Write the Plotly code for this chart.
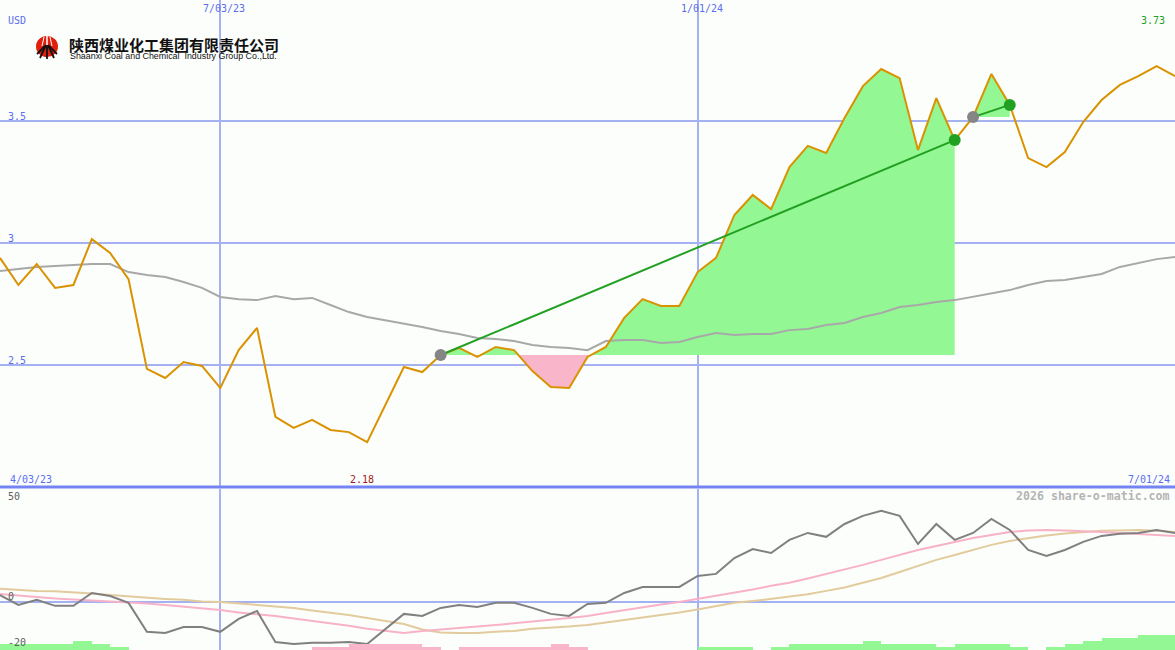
import pandas as pd
import plotly.graph_objects as go

W, H = 1175, 650

# ---------------- data ----------------
start_date = "2023-04-10"
end_date = "2024-07-01"
n_weeks = 65

price = [2.939, 2.828, 2.914, 2.816, 2.828, 3.016, 2.959, 2.852, 2.484, 2.447,
         2.512, 2.496, 2.406, 2.561, 2.652, 2.287, 2.242, 2.275, 2.234, 2.225,
         2.184, 2.336, 2.492, 2.471, 2.541, 2.570, 2.533, 2.574, 2.561, 2.475,
         2.410, 2.406, 2.533, 2.574, 2.693, 2.770, 2.742, 2.742, 2.881, 2.939,
         3.115, 3.197, 3.139, 3.311, 3.398, 3.369, 3.512, 3.643, 3.713, 3.676,
         3.381, 3.594, 3.422, 3.516, 3.693, 3.566, 3.348, 3.311, 3.373, 3.496,
         3.586, 3.648, 3.684, 3.725, 3.684]

moving_avg = [2.885, 2.893, 2.902, 2.906, 2.910, 2.914, 2.914, 2.881, 2.869, 2.861,
              2.840, 2.816, 2.779, 2.770, 2.766, 2.783, 2.770, 2.775, 2.746, 2.717,
              2.697, 2.684, 2.672, 2.656, 2.639, 2.627, 2.611, 2.607, 2.598, 2.582,
              2.574, 2.570, 2.561, 2.598, 2.602, 2.602, 2.590, 2.594, 2.615, 2.631,
              2.623, 2.627, 2.627, 2.643, 2.648, 2.664, 2.672, 2.697, 2.713, 2.738,
              2.746, 2.758, 2.766, 2.779, 2.795, 2.807, 2.828, 2.844, 2.848, 2.861,
              2.873, 2.902, 2.918, 2.934, 2.943]

oscillator = [3.0, -1.3, 0.9, -1.7, -1.7, 3.9, 2.6, -0.4, -13.0, -13.5,
              -10.9, -10.9, -13.0, -7.4, -3.9, -17.4, -18.3, -17.8, -17.8, -17.4,
              -18.3, -11.7, -5.2, -6.1, -2.6, -1.3, -2.2, -0.4, -0.4, -2.6,
              -5.2, -6.1, -0.9, -0.4, 3.9, 6.5, 6.5, 6.5, 11.3, 12.2,
              19.1, 23.0, 21.3, 27.0, 30.0, 28.3, 33.9, 37.4, 39.6, 37.4,
              25.2, 33.9, 27.0, 30.0, 36.1, 31.3, 22.6, 20.0, 22.6, 26.1,
              28.7, 29.6, 30.0, 31.3, 30.0]

osc_signal = [3.5, 2.8, 2.2, 1.5, 1.1, 0.7, 0.4, 0.0, -0.7, -1.3,
              -2.0, -2.6, -3.5, -4.6, -5.2, -6.1, -7.2, -8.3, -9.1, -10.4,
              -11.7, -12.6, -13.5, -12.6, -12.0, -11.3, -10.9, -10.0, -9.3, -8.7,
              -7.8, -7.0, -6.1, -4.8, -3.5, -2.4, -1.1, 0.0, 1.3, 2.6,
              4.1, 5.4, 7.0, 8.3, 10.2, 12.2, 13.9, 16.1, 18.3, 20.4,
              22.6, 24.3, 26.1, 27.8, 29.1, 30.4, 31.1, 31.3, 31.1, 30.9,
              30.4, 30.0, 29.6, 29.1, 28.7]

osc_slow = [5.7, 5.2, 4.8, 4.6, 4.3, 3.7, 3.0, 2.4, 1.7, 1.3,
            0.9, 0.2, 0.0, -0.7, -1.3, -2.0, -2.6, -3.7, -4.6, -5.7,
            -7.0, -8.3, -9.6, -12.0, -13.3, -13.5, -13.5, -13.0, -12.6, -11.7,
            -11.3, -10.7, -10.0, -8.9, -7.8, -7.0, -5.9, -4.6, -3.3, -1.7,
            -0.4, 0.4, 1.3, 2.2, 3.3, 4.8, 6.3, 8.3, 10.4, 13.0,
            15.7, 18.3, 20.4, 22.6, 24.8, 26.5, 27.8, 28.9, 29.8, 30.4,
            30.9, 31.1, 31.3, 30.9, 30.4]

# signed histogram levels: + green, - pink
histogram = [2, 2, 2, 2, 3, 2, 1, 0, 0, 0,
             0, 0, 0, 0, 0, 0, 0, -1, -1, -2,
             -2, -2, -2, -1, 0, -1, -1, -1, -1, -1,
             -2, -1, 0, 0, 0, 0, 0, 0, 1, 1,
             1, 0, 1, 2, 2, 2, 2, 3, 2, 2,
             2, 1, 2, 2, 2, 1, 0, 1, 2, 3,
             4, 4, 5, 5, 5]

trends = [(24, 52), (53, 55)]   # (start week index, end week index)

x_ticks = ["2023-07-03", "2024-01-01"]
x_tick_labels = ["7/03/23", "1/01/24"]
y_ticks = [2.5, 3.0, 3.5]
y_tick_labels = ["2.5", "3", "3.5"]
osc_ticks = [50, 0, -20]
osc_tick_labels = ["50", "0", "-20"]

# ---------------- styles ----------------
BG = "#fcfefc"
GRID = "#a4b2f2"
SEP = "#7484f2"
LBL = "#5b6ef0"
ORANGE = "#d99200"
GRAYMA = "#a8a8a8"
GREEN_FILL = "#93f893"
PINK_FILL = "#f9b5ca"
GREEN = "#22a022"
FONT = "DejaVu Sans Mono"

dates = pd.date_range(start_date, periods=n_weeks, freq="7D")

main_bottom = 1 - 487 / H
osc_top = 161 / H


def px(x, y):
    return x / W, 1 - y / H


fig = go.Figure()

# ---------- fills between price and trend base ----------
for i0, i1 in trends:
    base = price[i0]
    xs, up, lo = [], [], []
    for i in range(i0, i1 + 1):
        if i > i0:
            p0, p1 = price[i - 1] - base, price[i] - base
            if p0 * p1 < 0:
                f = p0 / (p0 - p1)
                t = dates[i - 1] + (dates[i] - dates[i - 1]) * f
                xs.append(t); up.append(base); lo.append(base)
        xs.append(dates[i]); up.append(max(price[i], base)); lo.append(min(price[i], base))
    for ys, col in ((up, GREEN_FILL), (lo, PINK_FILL)):
        fig.add_trace(go.Scatter(x=xs, y=[base] * len(xs), mode="lines",
                                 line=dict(width=0), hoverinfo="skip", showlegend=False))
        fig.add_trace(go.Scatter(x=xs, y=ys, mode="lines", line=dict(width=0),
                                 fill="tonexty", fillcolor=col, hoverinfo="skip",
                                 showlegend=False))

# moving average and price
fig.add_trace(go.Scatter(x=dates, y=moving_avg, mode="lines",
                         line=dict(color=GRAYMA, width=2), showlegend=False))
fig.add_trace(go.Scatter(x=dates, y=price, mode="lines",
                         line=dict(color=ORANGE, width=2), showlegend=False))

# trend lines and markers
for i0, i1 in trends:
    fig.add_trace(go.Scatter(x=[dates[i0], dates[i1]], y=[price[i0], price[i1]],
                             mode="lines", line=dict(color=GREEN, width=2),
                             showlegend=False))
    fig.add_trace(go.Scatter(x=[dates[i0]], y=[price[i0]], mode="markers",
                             marker=dict(color="#858585", size=12), showlegend=False))
    fig.add_trace(go.Scatter(x=[dates[i1]], y=[price[i1]], mode="markers",
                             marker=dict(color=GREEN, size=12), showlegend=False))

# ---------- lower panel ----------
bar_x = [d + pd.Timedelta(days=3.5) for d in dates]
fig.add_trace(go.Bar(x=bar_x, y=[abs(v) for v in histogram],
                     marker=dict(color=[GREEN_FILL if v > 0 else PINK_FILL for v in histogram],
                                 line=dict(width=0)),
                     width=7 * 24 * 3600 * 1000, xaxis="x2", yaxis="y3",
                     showlegend=False))
fig.add_trace(go.Scatter(x=dates, y=osc_slow, mode="lines", xaxis="x2", yaxis="y2",
                         line=dict(color="#e2cb9c", width=2), showlegend=False))
fig.add_trace(go.Scatter(x=dates, y=osc_signal, mode="lines", xaxis="x2", yaxis="y2",
                         line=dict(color="#f8b2c8", width=2), showlegend=False))
fig.add_trace(go.Scatter(x=dates, y=oscillator, mode="lines", xaxis="x2", yaxis="y2",
                         line=dict(color="#808080", width=2), showlegend=False))

# ---------- annotations ----------
ann = []
lf = dict(family=FONT, size=10, color=LBL)
ann.append(dict(text="USD", x=6 / W, y=1 - 20 / H, xref="paper", yref="paper",
                xanchor="left", yanchor="middle", showarrow=False, font=lf))
for v, t in zip(y_ticks, y_tick_labels):
    ann.append(dict(text=t, x=6 / W, y=v, xref="paper", yref="y", xanchor="left",
                    yanchor="bottom", yshift=-3, showarrow=False, font=lf))
for d, t in zip(x_ticks, x_tick_labels):
    ann.append(dict(text=t, x=d, y=1 - 9 / H, xref="x", yref="paper", xanchor="center",
                    yanchor="middle", xshift=4, showarrow=False, font=lf))
ann.append(dict(text="4/03/23", x=8 / W, y=1 - 479 / H, xref="paper", yref="paper",
                xanchor="left", yanchor="middle", showarrow=False, font=lf))
ann.append(dict(text="7/01/24", x=1172 / W, y=1 - 479 / H, xref="paper", yref="paper",
                xanchor="right", yanchor="middle", showarrow=False, font=lf))
imin = price.index(min(price))
imax = price.index(max(price))
ann.append(dict(text=f"{min(price):.2f}", x=dates[imin], y=1 - 479 / H, xref="x", yref="paper",
                xanchor="center", yanchor="middle", xshift=-5, showarrow=False,
                font=dict(family=FONT, size=10, color="#a01c1c")))
ann.append(dict(text=f"{max(price):.2f}", x=dates[imax], y=1 - 21 / H, xref="x", yref="paper",
                xanchor="center", yanchor="middle", xshift=-4, showarrow=False,
                font=dict(family=FONT, size=10, color=GREEN)))
for yy, t in zip([496, 596, 642], osc_tick_labels):
    ann.append(dict(text=t, x=6 / W, y=1 - yy / H, xref="paper", yref="paper",
                    xanchor="left", yanchor="middle", showarrow=False,
                    font=dict(family=FONT, size=10, color="#606060")))
ann.append(dict(text="<b>2026 share-o-matic.com</b>", x=1172 / W, y=1 - 496 / H,
                xref="paper", yref="paper", xanchor="right", yanchor="middle",
                showarrow=False, font=dict(family=FONT, size=11.6, color="#b4b4b4")))
# logo text
ann.append(dict(text="<b>陕西煤业化工集团有限责任公司</b>", x=67 / W, y=1 - 44.5 / H,
                xref="paper", yref="paper", xanchor="left", yanchor="middle",
                showarrow=False, font=dict(family="Noto Sans CJK SC", size=15, color="#111111")))
ann.append(dict(text="Shaanxi Coal and Chemical  Industry Group Co.,Ltd.", x=68 / W,
                y=1 - 56 / H, xref="paper", yref="paper", xanchor="left", yanchor="middle",
                showarrow=False, font=dict(family="Liberation Sans", size=8.9, color="#111111")))

# ---------- shapes ----------
shapes = []
shapes.append(dict(type="line", xref="paper", yref="paper", x0=0, x1=1,
                   y0=main_bottom, y1=main_bottom, line=dict(color=SEP, width=3), layer="above"))
cx0, cy0 = px(36, 36)
cx1, cy1 = px(58, 57)
shapes.append(dict(type="circle", xref="paper", yref="paper", x0=cx0, x1=cx1, y0=cy1, y1=cy0,
                   fillcolor="#e0200c", line=dict(width=0), layer="above"))


def seg(a, b, c, d, col, w):
    x0, y0 = px(a, b)
    x1, y1 = px(c, d)
    return dict(type="line", xref="paper", yref="paper", x0=x0, y0=y0, x1=x1, y1=y1,
                line=dict(color=col, width=w), layer="above")


shapes.append(seg(47, 36, 47, 46, "#ffffff", 1.5))
shapes.append(seg(44, 37, 42, 46, "#ffffff", 1))
shapes.append(seg(50, 37, 52, 46, "#ffffff", 1))
for (a, b, c, d) in [(47, 45, 47, 59), (46, 45, 40, 58), (48, 45, 54, 58),
                     (45, 46, 37, 54), (49, 46, 57, 54)]:
    shapes.append(seg(a, b, c, d, "#111111", 1.8))

xcommon = dict(type="date", range=[start_date, end_date], tickvals=x_ticks,
               showticklabels=False, showgrid=True, gridcolor=GRID, gridwidth=2,
               zeroline=False, showline=False, ticks="", fixedrange=True)

fig.update_layout(
    width=W, height=H,
    margin=dict(l=0, r=0, t=0, b=0),
    paper_bgcolor=BG, plot_bgcolor=BG,
    showlegend=False,
    bargap=0,
    xaxis=dict(**xcommon, domain=[0, 1], anchor="y"),
    xaxis2=dict(**xcommon, domain=[0, 1], anchor="y2", matches="x"),
    yaxis=dict(domain=[main_bottom, 1], range=[2.0, 3.996], tickvals=y_ticks,
               showticklabels=False, showgrid=True, gridcolor=GRID, gridwidth=2,
               zeroline=False, ticks="", fixedrange=True),
    yaxis2=dict(domain=[0, osc_top], range=[-20.9, 49.1], tickvals=[0],
                showticklabels=False, showgrid=True, gridcolor=GRID, gridwidth=2,
                zeroline=False, ticks="", fixedrange=True, anchor="x2"),
    yaxis3=dict(overlaying="y2", range=[0, 161 / 3], visible=False, anchor="x2",
                fixedrange=True),
    annotations=ann,
    shapes=shapes,
)

fig.write_html("out.html", config={"displayModeBar": False},
               post_script="document.body.style.margin='0px';document.body.style.overflow='hidden';")
